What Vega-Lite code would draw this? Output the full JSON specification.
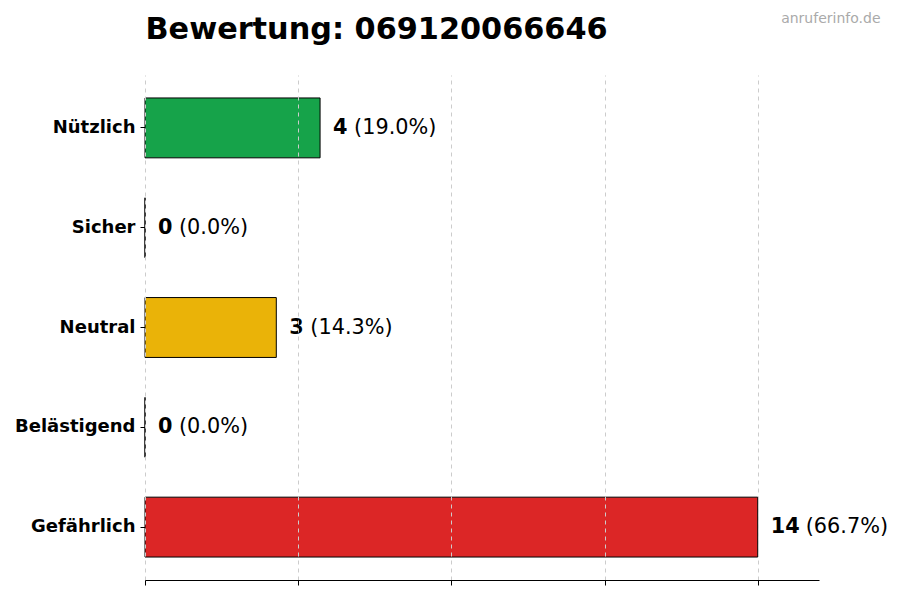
{
  "$schema": "https://vega.github.io/schema/vega-lite/v6.json",
  "width": 674,
  "height": 505,
  "autosize": {"type": "none"},
  "padding": {"left": 145, "top": 75, "right": 81, "bottom": 20},
  "background": "white",
  "config": {"view": {"stroke": null}, "font": "DejaVu Sans"},
  "data": {
    "values": [
      {"kategorie": "Nützlich", "anzahl": 4, "anteil": "(19.0%)"},
      {"kategorie": "Sicher", "anzahl": 0, "anteil": "(0.0%)"},
      {"kategorie": "Neutral", "anzahl": 3, "anteil": "(14.3%)"},
      {"kategorie": "Belästigend", "anzahl": 0, "anteil": "(0.0%)"},
      {"kategorie": "Gefährlich", "anzahl": 14, "anteil": "(66.7%)"}
    ]
  },
  "encoding": {
    "y": {
      "field": "kategorie",
      "type": "nominal",
      "sort": null,
      "scale": {"paddingInner": 0.4, "paddingOuter": 0.23},
      "axis": {
        "title": "Bewertung: 069120066646",
        "titleX": 0,
        "titleY": -36.5,
        "titleAngle": 0,
        "titleAlign": "left",
        "titleAnchor": null,
        "titleBaseline": "alphabetic",
        "titleFont": "DejaVu Sans",
        "titleFontSize": 30.3,
        "titleFontWeight": "bold",
        "titleColor": "#000000",
        "domain": false,
        "grid": false,
        "tickSize": 5,
        "tickColor": "#000000",
        "labelFont": "DejaVu Sans",
        "labelFontSize": 18,
        "labelFontWeight": "bold",
        "labelColor": "#000000",
        "labelPadding": 5
      }
    }
  },
  "layer": [
    {
      "mark": {"type": "bar", "stroke": "#000000", "strokeWidth": 1},
      "encoding": {
        "x": {
          "field": "anzahl",
          "type": "quantitative",
          "scale": {"domain": [0, 15.4], "nice": false},
          "axis": {
            "values": [0, 3.5, 7, 10.5, 14],
            "labels": false,
            "title": "anruferinfo.de",
            "titleX": 735,
            "titleY": -558,
            "titleAlign": "right",
            "titleAnchor": null,
            "titleBaseline": "alphabetic",
            "titleFont": "DejaVu Sans",
            "titleFontSize": 14,
            "titleFontWeight": "normal",
            "titleColor": "#aaaaaa",
            "tickSize": 5,
            "tickColor": "#000000",
            "domainColor": "#000000",
            "grid": true,
            "gridDash": [4, 4],
            "gridColor": "#cccccc",
            "zindex": 1
          }
        },
        "color": {
          "field": "kategorie",
          "type": "nominal",
          "scale": {
            "domain": ["Nützlich", "Sicher", "Neutral", "Belästigend", "Gefährlich"],
            "range": ["#16a34a", "#6b7280", "#eab308", "#f97316", "#dc2626"]
          },
          "legend": null
        }
      }
    },
    {
      "mark": {
        "type": "text",
        "align": "left",
        "baseline": "middle",
        "dx": 13,
        "font": "DejaVu Sans",
        "fontSize": 20.8,
        "fontWeight": "bold",
        "color": "#000000"
      },
      "encoding": {
        "x": {"field": "anzahl", "type": "quantitative"},
        "text": {"field": "anzahl", "type": "quantitative"}
      }
    },
    {
      "transform": [{"filter": "datum.anzahl < 10"}],
      "mark": {
        "type": "text",
        "align": "left",
        "baseline": "middle",
        "dx": 34,
        "font": "DejaVu Sans",
        "fontSize": 20.8,
        "color": "#000000"
      },
      "encoding": {
        "x": {"field": "anzahl", "type": "quantitative"},
        "text": {"field": "anteil", "type": "nominal"}
      }
    },
    {
      "transform": [{"filter": "datum.anzahl >= 10"}],
      "mark": {
        "type": "text",
        "align": "left",
        "baseline": "middle",
        "dx": 48,
        "font": "DejaVu Sans",
        "fontSize": 20.8,
        "color": "#000000"
      },
      "encoding": {
        "x": {"field": "anzahl", "type": "quantitative"},
        "text": {"field": "anteil", "type": "nominal"}
      }
    }
  ]
}
